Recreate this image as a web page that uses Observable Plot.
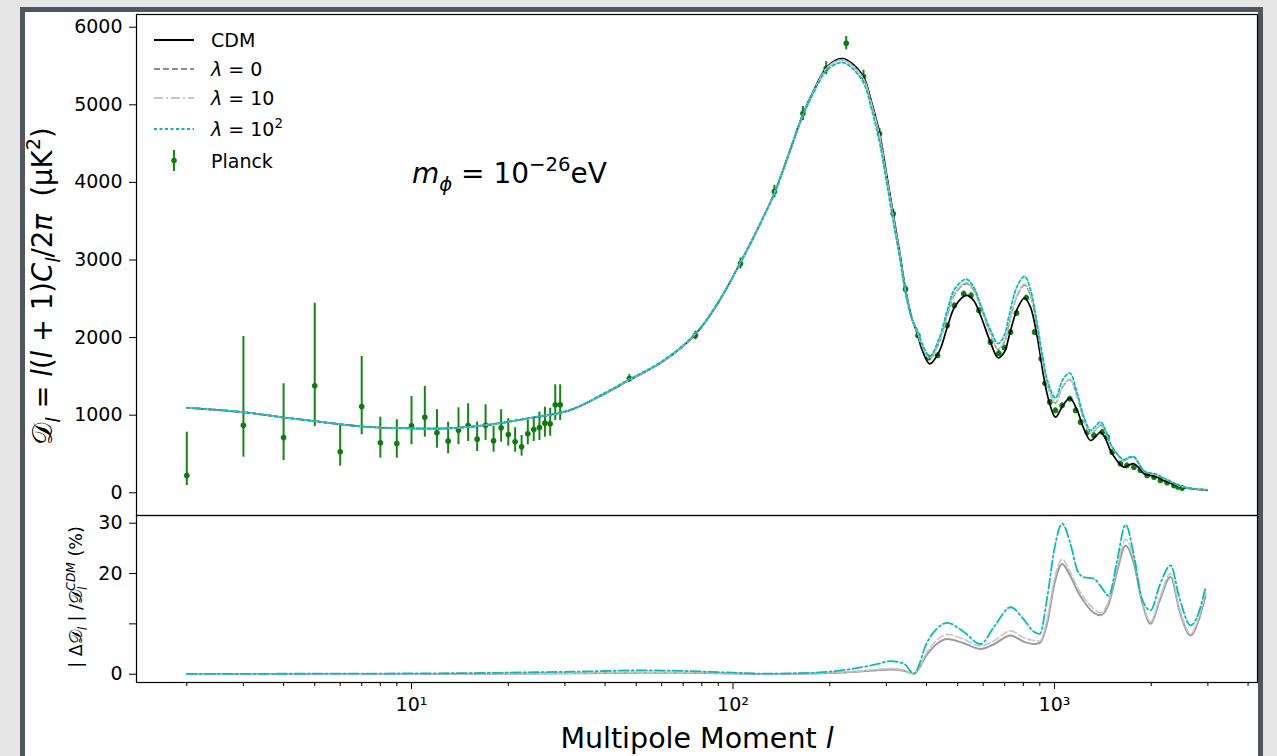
<!DOCTYPE html>
<html><head><meta charset="utf-8">
<script src="https://cdn.jsdelivr.net/npm/d3@7"></script>
<script src="https://cdn.jsdelivr.net/npm/@observablehq/plot@0.6"></script>
<style>
body{margin:0;background:#e7e7e7;font-family:"DejaVu Sans",sans-serif;}
#page{position:relative;width:1277px;height:756px;overflow:hidden;background:#e6e6e6;}
#frame{position:absolute;left:20px;top:7px;width:1233px;height:760px;border:5px solid #50565c;border-bottom:none;background:#fff;}
.layer{position:absolute;left:0;}
</style></head><body><div id="page"><div id="frame"></div></div>
<script>
// ---- model curves (top panel) ----
const curveL = [2,3,4,5,7,10,13,17,24,31,40,47,60,76,90,105,120,135,150,165,180,195,210,220,235,255,270,286,300,315,330,344,360,376,386,409,437,464,490,532,560,589,632,668,700,721,766,807,842,884,926,960,1007,1060,1116,1177,1235,1295,1340,1391,1440,1493,1560,1643,1700,1767,1830,1898,1990,2086,2160,2245,2350,2467,2600,2750,2985];
const cdmD = [1095,1039,970,923,854,829,829,871,970,1061,1280,1440,1680,2030,2450,2950,3420,3880,4400,4880,5220,5480,5580,5595,5530,5356,5030,4626,4120,3595,3100,2624,2250,2027,1860,1662,1812,2134,2400,2543,2480,2285,1941,1740,1820,2005,2371,2513,2392,2005,1490,1189,974,1120,1219,1061,820,674,720,781,700,545,420,330,355,374,320,245,225,200,168,138,105,75,58,45,32];
const lam0D = [1095,1039,970,923,854,829,830,872,971,1062,1283,1444,1685,2036,2455,2954,3422,3878,4396,4873,5210,5467,5565,5580,5510,5330,5000,4590,4083,3562,3075,2606,2246,2045,1906,1730,1926,2283,2563,2696,2616,2399,2050,1851,1951,2157,2542,2676,2540,2127,1609,1332,1154,1365,1457,1236,939,760,808,872,788,627,504,413,446,454,373,276,248,228,197,164,122,83,63,50,37];
const lam10D = [1095,1039,970,923,854,829,830,872,971,1062,1283,1444,1685,2036,2455,2954,3422,3878,4396,4873,5209,5466,5564,5578,5508,5328,4998,4588,4081,3560,3073,2605,2246,2047,1912,1738,1940,2300,2580,2712,2630,2410,2060,1862,1962,2170,2560,2690,2552,2135,1618,1340,1162,1374,1465,1245,944,765,812,876,792,632,508,416,449,457,375,277,249,229,198,165,123,83,63,50,37];
const lam100D = [1096,1040,971,924,855,830,831,873,974,1066,1288,1450,1693,2043,2460,2958,3423,3875,4390,4860,5193,5440,5530,5545,5470,5280,4935,4510,4015,3500,3030,2570,2240,2080,1940,1760,1980,2352,2630,2752,2654,2422,2100,1923,2044,2268,2667,2789,2619,2169,1669,1391,1222,1455,1542,1282,978,803,855,914,812,632,512,426,456,462,378,281,254,234,201,167,124,84,64,50,38];

// ---- Planck data ----
const lowL = [2,3,4,5,6,7,8,9,10,11,12,13,14,15,16,17,18,19,20,21,22,23,24,25,26,27,28,29];
const lowD = [223,871,713,1379,528,1112,644,635,863,974,773,665,807,867,691,871,670,838,751,657,593,760,816,842,897,889,1134,1134];
const lowHi = [781,2014,1405,2443,867,1756,974,941,1241,1370,1070,910,1095,1147,910,1134,858,1070,954,838,738,932,974,1039,1103,1090,1392,1392];
const lowLo = [94,459,416,854,343,747,446,446,619,717,575,503,619,661,532,674,523,652,601,523,472,619,661,674,717,729,932,932];
const binL = [47.6,76.4,105.5,134.5,165,195,225,254.6,285.6,315,344,376];
const binD = [1473,2027,2955,3883,4888,5472,5794,5365,4626,3595,2624,2027];
const binErr = [50,55,70,80,90,85,85,80,70,60,45,40];
const tailL = [406,433,464,488,522,550,582,632,671,699,730,762,817,867,909,934,967,1007,1056,1116,1163,1205,1264,1326,1408,1459,1511,1604,1680,1766,1850,1942,2040,2136,2240,2352,2420,2495];
const tailD = [1740,1770,2156,2414,2565,2543,2349,1941,1799,1869,2070,2315,2513,2070,1727,1412,1168,1061,1125,1211,1061,910,781,738,781,717,523,374,350,330,290,223,200,159,130,94,75,60];
const tailErr = 35;

// ---- relative differences (bottom panel, %) ----
const diffL = [2,5,10,20,35,52,70,100,126,160,200,242,280,309,340,365,402,430,464,520,589,650,730,800,860,900,948,1000,1056,1120,1180,1233,1325,1391,1475,1560,1664,1766,1870,1991,2120,2297,2450,2651,2800,2951];
const diffLam0 = [0.02,0.04,0.06,0.1,0.2,0.3,0.3,0.15,0.05,0.1,0.25,0.5,0.8,0.93,0.7,0.08,4.0,6.0,7.0,6.2,5.0,6.0,7.7,6.5,6.0,6.2,10.0,18.0,21.9,19.5,16.5,14.5,12.2,11.7,14.0,20.0,25.5,22.0,14.5,10.0,14.5,19.3,12.5,7.7,10.5,15.6];
const diffLam10 = [0.03,0.05,0.08,0.12,0.25,0.35,0.35,0.18,0.06,0.12,0.3,0.6,0.95,1.1,0.85,0.1,4.5,6.7,7.9,7.0,5.6,6.7,8.6,7.3,6.7,6.6,10.8,19.0,22.8,20.3,17.2,15.3,13.0,12.2,14.6,20.8,26.8,23.0,15.0,10.4,15.0,20.0,13.0,8.0,11.0,16.2];
const diffLam100 = [0.05,0.1,0.15,0.3,0.55,0.75,0.65,0.3,0.1,0.2,0.5,1.2,2.0,2.6,2.1,0.1,6.4,9.0,10.2,8.5,6.0,9.5,13.3,11.0,8.5,8.0,15.0,25.0,29.9,26.0,20.5,19.3,19.0,17.5,15.6,22.0,29.7,23.6,15.0,12.7,17.5,21.6,15.0,9.7,12.0,17.3];

// ---- ticks ----
const topYTicks = [0,1000,2000,3000,4000,5000,6000];
const botYTicks = [0,10,20,30];
const majorX = [10,100,1000];
const minorX = [2,3,4,5,6,7,8,9,20,30,40,50,60,70,80,90,200,300,400,500,600,700,800,900,2000,3000,4000];
const supDigits = {1:"¹",2:"²",3:"³"};

// ---- tables ----
const curves = curveL.map((l,i)=>({l, cdm:cdmD[i], l0:lam0D[i], l10:lam10D[i], l100:lam100D[i]}));
const planck = [
  ...lowL.map((l,i)=>({l, D:lowD[i], lo:lowLo[i], hi:lowHi[i]})),
  ...binL.map((l,i)=>({l, D:binD[i], lo:binD[i]-binErr[i], hi:binD[i]+binErr[i]})),
  ...tailL.map((l,i)=>({l, D:tailD[i], lo:tailD[i]-tailErr, hi:tailD[i]+tailErr}))
];
const diffs = diffL.map((l,i)=>({l, g:diffLam0[i], lg:diffLam10[i], c:diffLam100[i]}));

const FONT = "DejaVu Sans";
const xDomain = [1.395, 4280];
const CYAN = "#00bfbf", GREEN = "#138613";

const topPlot = Plot.plot({
  width:1277, height:520, marginLeft:136, marginRight:20, marginTop:14, marginBottom:5,
  style:{background:"transparent", fontFamily:FONT, fontSize:"19px", color:"#000", overflow:"visible"},
  x:{type:"log", domain:xDomain, axis:null},
  y:{domain:[-293,6164]},
  marks:[
    Plot.ruleX(planck,{x:"l", y1:"lo", y2:"hi", stroke:GREEN, strokeWidth:2}),
    Plot.dot(planck,{x:"l", y:"D", r:2.8, fill:"#0b7d0b", stroke:"none"}),
    Plot.line(curves,{x:"l", y:"cdm", stroke:"#000", strokeWidth:1.7, curve:"catmull-rom"}),
    Plot.line(curves,{x:"l", y:"l0", stroke:"#8e8e8e", strokeWidth:1.6, strokeDasharray:"6,3", curve:"catmull-rom"}),
    Plot.line(curves,{x:"l", y:"l10", stroke:"#c6c6c6", strokeWidth:1.6, strokeDasharray:"9,3,2,3", curve:"catmull-rom"}),
    Plot.line(curves,{x:"l", y:"l100", stroke:CYAN, strokeWidth:1.8, strokeDasharray:"3,2.5", curve:"catmull-rom"}),
    Plot.axisY(topYTicks,{tickSize:7, tickPadding:7, fontSize:19, label:null, stroke:"#000", tickFormat:d=>String(d)}),
    Plot.frame({stroke:"#000", strokeWidth:1.2})
  ]
});
topPlot.classList.add("layer"); topPlot.style.top = "0px";

const botPlot = Plot.plot({
  width:1277, height:256, marginLeft:136, marginRight:20, marginTop:15, marginBottom:74,
  style:{background:"transparent", fontFamily:FONT, fontSize:"19px", color:"#000", overflow:"visible"},
  x:{type:"log", domain:xDomain},
  y:{domain:[-1.65,31.53]},
  marks:[
    Plot.line(diffs,{x:"l", y:"g", stroke:"#9c9c9c", strokeWidth:2, curve:"monotone-x"}),
    Plot.line(diffs,{x:"l", y:"lg", stroke:"#c8c8c8", strokeWidth:1.7, strokeDasharray:"7,3", curve:"monotone-x"}),
    Plot.line(diffs,{x:"l", y:"c", stroke:CYAN, strokeWidth:1.8, strokeDasharray:"10,3,2,3", curve:"monotone-x"}),
    Plot.axisX(majorX,{tickSize:7, tickPadding:8, fontSize:19, label:null, tickFormat:d=>"10"+supDigits[Math.round(Math.log10(d))]}),
    Plot.axisX(minorX,{tickSize:4, tickFormat:()=>"", label:null}),
    Plot.axisY(botYTicks,{tickSize:7, tickPadding:7, fontSize:19, label:null, tickFormat:d=>d===10?"":String(d)}),
    Plot.frame({stroke:"#000", strokeWidth:1.2})
  ]
});
botPlot.classList.add("layer"); botPlot.style.top = "500px";

const page = document.getElementById("page");
page.appendChild(topPlot);
page.appendChild(botPlot);

// ---- overlay: labels, annotation, legend ----
const svg = d3.select(page).append("svg").attr("class","layer").style("top","0px")
  .attr("width",1277).attr("height",756).style("font-family",FONT).style("pointer-events","none");

function richText(g, segs, size){
  const t = g.append("text").attr("font-size",size).style("white-space","pre").attr("fill","#000");
  let off = 0;
  segs.forEach(s=>{
    const sp = t.append("tspan").text(s.t);
    let target = s.sub ? size*0.28 : s.sup ? -size*0.42 : 0;
    if (target !== off) { sp.attr("dy", target-off); off = target; }
    if (s.sub || s.sup) sp.attr("font-size", size*0.7);
    if (s.it) sp.attr("font-style","italic");
    if (s.dx) sp.attr("dx", s.dx);
  });
  return t;
}

// top y label
richText(svg.append("g").attr("transform","translate(52,286) rotate(-90)"), [
  {t:"𝒟"},{t:"l",it:true,sub:true},{t:" = "},{t:"l",it:true},{t:"("},{t:"l",it:true},{t:" + 1)"},
  {t:"C",it:true},{t:"l",it:true,sub:true},{t:"/2"},{t:"π",it:true},{t:"  (μK"},{t:"2",sup:true},{t:")"}
], 27.5).attr("text-anchor","middle");

// bottom y label
richText(svg.append("g").attr("transform","translate(82,597) rotate(-90)"), [
  {t:"| Δ"},{t:"𝒟"},{t:"l",it:true,sub:true},{t:" | /"},{t:"𝒟"},{t:"l",it:true,sub:true},
  {t:"CDM",it:true,sup:true,dx:-4},{t:" (%)"}
], 17.5).attr("text-anchor","middle");

// x label
richText(svg.append("g").attr("transform","translate(697,748)"), [
  {t:"Multipole Moment "},{t:"l",it:true}
], 28.5).attr("text-anchor","middle");

// annotation
richText(svg.append("g").attr("transform","translate(412,183)"), [
  {t:"m",it:true},{t:"ϕ",it:true,sub:true},{t:" = 10"},{t:"−26",sup:true},{t:"eV"}
], 28);

// legend
const leg = svg.append("g");
const legItems = [
  {y:40, stroke:"#000", dash:null, label:[{t:"CDM"}]},
  {y:69, stroke:"#8e8e8e", dash:"6,3", label:[{t:"λ",it:true},{t:" = 0"}]},
  {y:98, stroke:"#c6c6c6", dash:"9,3,2,3", label:[{t:"λ",it:true},{t:" = 10"}]},
  {y:129, stroke:CYAN, dash:"3,2.5", label:[{t:"λ",it:true},{t:" = 10"},{t:"2",sup:true}]}
];
legItems.forEach(it=>{
  leg.append("line").attr("x1",154).attr("x2",194).attr("y1",it.y).attr("y2",it.y)
    .attr("stroke",it.stroke).attr("stroke-width",1.8).attr("stroke-dasharray",it.dash);
  richText(leg.append("g").attr("transform",`translate(211,${it.y+7})`), it.label, 19);
});
leg.append("line").attr("x1",174).attr("x2",174).attr("y1",150).attr("y2",171).attr("stroke",GREEN).attr("stroke-width",2);
leg.append("circle").attr("cx",174).attr("cy",160.5).attr("r",2.8).attr("fill","#0b7d0b");
richText(leg.append("g").attr("transform","translate(211,168)"), [{t:"Planck"}], 19);
</script>
</body></html>
